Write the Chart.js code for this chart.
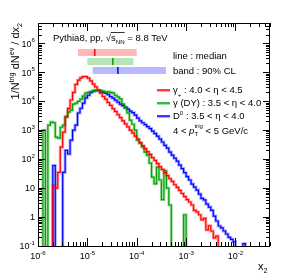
<!DOCTYPE html>
<html>
<head>
<meta charset="utf-8">
<script src="https://cdn.jsdelivr.net/npm/chart.js@4"></script>
<style>
  html, body { margin: 0; padding: 0; background: #fff; }
  #wrap { width: 291px; height: 280px; }
</style>
</head>
<body>
<div id="wrap"><canvas id="x2Chart" width="291" height="280"></canvas></div>
<script>
// histogram binning: 20 log bins per decade starting at 1e-6
const binsPerDecade = 20;
const xStart = 1e-6;
const nBins = 94;
const binEdges = Array.from({ length: nBins + 1 }, (_, k) => xStart * Math.pow(10, k / binsPerDecade));

// 1/N^trig dN^ev/dx2 per bin
const gammaPlus = [
  0, 0, 0, 0, 0, 0, 12, 10, 35, 260,
  850, 2800, 5600, 11000, 20000, 38000, 53000, 64000, 71000, 70000,
  62000, 50000, 39000, 31000, 24000, 19000, 14500, 11800, 9000, 7200,
  5500, 4400, 3400, 2700, 2100, 1650, 1300, 1000, 800, 620,
  490, 370, 290, 230, 180, 145, 112, 90, 70, 55,
  44, 34, 27, 21, 17, 13, 10.5, 8.3, 6.5, 5.1,
  4.0, 3.3, 2.6, 1.7, 1.5, 1.2, 0.8, 0.9, 0.36, 0.5,
  0.33, 0.19, 0.22, 0, 0, 0, 0, 0, 0, 0,
  0, 0, 0, 0, 0, 0, 0, 0, 0, 0,
  0, 0, 0, 0
];
const gammaDY = [
  0, 0, 1000, 0, 1500, 1900, 1800, 570, 530, 1260,
  1500, 3000, 4200, 4900, 7900, 8500, 9900, 11700, 15000, 19000,
  20000, 21000, 23000, 23000, 24000, 23000, 22000, 20000, 21000, 20000,
  19000, 16000, 14000, 12000, 7900, 5800, 3900, 2200, 1600, 1000,
  450, 355, 260, 175, 137, 73, 24, 14, 53, 19,
  4, 40, 10, 2.6, 0, 0, 0, 0, 0, 1.2,
  0, 0, 0, 0, 0, 0, 0, 0, 0, 0,
  0, 0, 0, 0, 0, 0, 0, 0, 0, 0,
  0, 0, 0, 0, 0, 0, 0, 0, 0, 0,
  0, 0, 0, 0
];
const dZero = [
  0, 0, 0, 0, 0, 0, 60, 0, 0, 0,
  35, 200, 150, 450, 1000, 1500, 3900, 5700, 8500, 13000,
  16000, 20000, 22000, 23500, 23500, 22000, 20500, 19000, 16700, 14300,
  12700, 10800, 9200, 7900, 7000, 6200, 5300, 4500, 4000, 3300,
  2600, 2100, 1800, 1550, 1320, 1130, 925, 760, 620, 490,
  390, 300, 240, 175, 137, 108, 85, 62, 47, 34,
  25, 19, 13.7, 10.8, 8.5, 6.2, 4.4, 3.9, 2.8, 2.2,
  1.7, 1.08, 0.73, 0.49, 0.42, 0.33, 0.26, 0.2, 0.17, 0.14,
  0, 0, 0, 0.12, 0, 0, 0, 0, 0, 0,
  0, 0, 0, 0
];

// 90% CL bands and medians (x2), order: gamma+, gamma DY, D0
const bandLow = [6.45e-6, 1.0e-5, 1.28e-5];
const bandHigh = [1.0e-4, 8.6e-5, 3.9e-4];
const medians = [1.41e-5, 3.28e-5, 4.15e-5];

const xTicks = [1e-6, 1e-5, 1e-4, 1e-3, 1e-2];
const xTickExp = ['-6', '-5', '-4', '-3', '-2'];
const yTicks = [0.1, 1, 10, 100, 1e3, 1e4, 1e5, 1e6];
const yTickLabels = [['10', '-1'], ['1', ''], ['10', ''], ['10', '2'], ['10', '3'], ['10', '4'], ['10', '5'], ['10', '6']];

const dark = ['#ff0000', '#00a000', '#0000ff'];
const light = ['rgba(255,0,0,0.35)', 'rgba(0,160,0,0.35)', 'rgba(0,0,255,0.35)'];
const boxFill = ['rgba(255,0,0,0.28)', 'rgba(0,160,0,0.28)', 'rgba(0,0,255,0.28)'];
const FONT = '"Liberation Sans", Arial, sans-serif';

function histPoints(vals) {
  // zero bins are drawn below the frame so the step drops to the axis
  return binEdges.map((e, i) => {
    const v = vals[Math.min(i, vals.length - 1)];
    return { x: e, y: v > 0 ? v : 1e-3 };
  });
}

const series = [gammaPlus, gammaDY, dZero];
const datasets = [];
series.forEach((vals, i) => {
  datasets.push({ data: histPoints(vals), borderColor: dark[i], borderWidth: 1.2, stepped: 'before', pointRadius: 0, fill: false, order: 1 });
  datasets.push({ data: histPoints(vals), borderColor: light[i], borderWidth: 3, stepped: 'before', pointRadius: 0, fill: false, order: 2 });
});

// draw text made of pieces (sub/superscripts); returns width
function rich(ctx, x, y, parts, size, draw = true) {
  let cx = x;
  for (const p of parts) {
    if (p.stack) {
      ctx.font = (size * 0.65) + 'px ' + FONT;
      const w1 = ctx.measureText(p.stack[0]).width;
      const w2 = ctx.measureText(p.stack[1]).width;
      if (draw) {
        ctx.fillText(p.stack[0], cx, y + size * 0.3);
        ctx.fillText(p.stack[1], cx, y - size * 0.55);
      }
      cx += Math.max(w1, w2);
      continue;
    }
    const s = size * (p.s || 1);
    ctx.font = (p.i ? 'italic ' : '') + s + 'px ' + FONT;
    if (draw) ctx.fillText(p.t, cx, y + (p.dy || 0) * size);
    cx += ctx.measureText(p.t).width;
  }
  return cx - x;
}

const frameAndText = {
  id: 'frameAndText',
  beforeDatasetsDraw(chart) {
    const { ctx, scales: { x, y } } = chart;
    const rows = [[49, 56], [58, 65], [67, 74]];
    ctx.save();
    for (let i = 0; i < 3; i++) {
      const x1 = x.getPixelForValue(bandLow[i]);
      const x2 = x.getPixelForValue(bandHigh[i]);
      ctx.fillStyle = boxFill[i];
      ctx.fillRect(x1, rows[i][0], x2 - x1, rows[i][1] - rows[i][0]);
      const xm = x.getPixelForValue(medians[i]);
      ctx.strokeStyle = dark[i];
      ctx.lineWidth = 1.5;
      ctx.beginPath();
      ctx.moveTo(xm, rows[i][0]);
      ctx.lineTo(xm, rows[i][1]);
      ctx.stroke();
    }
    ctx.restore();
  },
  afterDraw(chart) {
    const { ctx, chartArea: a, scales: { x, y } } = chart;
    ctx.save();
    ctx.strokeStyle = '#000';
    ctx.fillStyle = '#000';
    ctx.lineWidth = 1;
    ctx.strokeRect(a.left + 0.5, a.top + 0.5, a.right - a.left - 1, a.bottom - a.top);

    // log ticks on all four sides
    ctx.beginPath();
    for (let d = -6; d <= -2; d++) {
      for (let m = 1; m <= 9; m++) {
        const v = m * Math.pow(10, d);
        if (v > x.max) break;
        const px = Math.round(x.getPixelForValue(v)) + 0.5;
        const len = m === 1 ? 8 : 4;
        ctx.moveTo(px, a.bottom); ctx.lineTo(px, a.bottom - len);
        ctx.moveTo(px, a.top); ctx.lineTo(px, a.top + len);
      }
    }
    for (let d = -1; d <= 6; d++) {
      for (let m = 1; m <= 9; m++) {
        const v = m * Math.pow(10, d);
        if (v > y.max) break;
        const py = Math.round(y.getPixelForValue(v)) + 0.5;
        const len = m === 1 ? 7 : 4;
        ctx.moveTo(a.left, py); ctx.lineTo(a.left + len, py);
        ctx.moveTo(a.right, py); ctx.lineTo(a.right - len, py);
      }
    }
    ctx.stroke();

    // tick labels
    ctx.textBaseline = 'alphabetic';
    ctx.textAlign = 'left';
    xTicks.forEach((v, i) => {
      const parts = [{ t: '10' }, { t: xTickExp[i], s: 0.68, dy: -0.45 }];
      const w = rich(ctx, 0, 0, parts, 9, false);
      rich(ctx, x.getPixelForValue(v) - w / 2, 259, parts, 9);
    });
    yTicks.forEach((v, i) => {
      const [base, ex] = yTickLabels[i];
      const parts = [{ t: base }];
      if (ex) parts.push({ t: ex, s: 0.68, dy: -0.45 });
      const w = rich(ctx, 0, 0, parts, 9, false);
      rich(ctx, 35 - w, y.getPixelForValue(v) + 3.3, parts, 9);
    });

    // axis titles
    rich(ctx, 258, 270, [{ t: 'x' }, { t: '2', s: 0.65, dy: 0.3 }], 11);
    const yTitle = [{ t: '1/N' }, { t: 'trig', s: 0.65, dy: -0.45 }, { t: ' dN' }, { t: 'ev', s: 0.65, dy: -0.45 }, { t: ' / dx' }, { t: '2', s: 0.65, dy: 0.3 }];
    const tw = rich(ctx, 0, 0, yTitle, 11, false);
    ctx.save();
    ctx.translate(19, a.top);
    ctx.rotate(-Math.PI / 2);
    rich(ctx, -tw, 0, yTitle, 11);
    ctx.restore();

    // header
    const hx = 53, hy = 41;
    let cx = hx + rich(ctx, hx, hy, [{ t: 'Pythia8, pp, ' }], 9.5);
    const sqrtW = rich(ctx, cx, hy, [{ t: '√' }], 9.5);
    const sx = cx + sqrtW;
    const sw = rich(ctx, sx, hy, [{ t: 's' }, { t: 'NN', s: 0.65, dy: 0.3 }], 9.5);
    ctx.beginPath();
    ctx.moveTo(sx - 0.5, hy - 8.5); ctx.lineTo(sx + sw, hy - 8.5);
    ctx.lineWidth = 0.8; ctx.stroke();
    rich(ctx, sx + sw, hy, [{ t: ' = 8.8 TeV' }], 9.5);

    rich(ctx, 173, 58.5, [{ t: 'line : median' }], 9.5);
    rich(ctx, 173, 73.5, [{ t: 'band : 90% CL' }], 9.5);

    // legend
    const legY = [90, 103, 116];
    const legText = [
      [{ t: 'γ' }, { t: '+', s: 0.65, dy: 0.35 }, { t: ' : 4.0 < η < 4.5' }],
      [{ t: 'γ (DY) : 3.5 < η < 4.0' }],
      [{ t: 'D' }, { t: '0', s: 0.65, dy: -0.45 }, { t: ' : 3.5 < η < 4.0' }]
    ];
    legY.forEach((ly, i) => {
      ctx.lineWidth = 3; ctx.strokeStyle = light[i];
      ctx.beginPath(); ctx.moveTo(157, ly + 0.5); ctx.lineTo(170, ly + 0.5); ctx.stroke();
      ctx.lineWidth = 1.3; ctx.strokeStyle = dark[i];
      ctx.beginPath(); ctx.moveTo(157, ly); ctx.lineTo(170, ly); ctx.stroke();
      rich(ctx, 173, ly + 3.4, legText[i], 9.5);
    });
    rich(ctx, 173, 133.5, [{ t: '4 < ' }, { t: 'p', i: true }, { stack: ['T', 'trig'] }, { t: ' < 5 GeV/c' }], 9.5);
    ctx.restore();
  }
};

const ctx = document.getElementById('x2Chart').getContext('2d');
const x2Chart = new Chart(ctx, {
  type: 'line',
  data: { datasets: datasets },
  options: {
    responsive: false,
    animation: false,
    devicePixelRatio: 1,
    layout: { padding: { left: 38, right: 21, top: 23, bottom: 34 } },
    scales: {
      x: { type: 'logarithmic', min: 1e-6, max: 0.05, display: false },
      y: { type: 'logarithmic', min: 0.1, max: 5e6, display: false }
    },
    plugins: { legend: { display: false }, tooltip: { enabled: false } }
  },
  plugins: [frameAndText]
});
</script>
</body>
</html>
